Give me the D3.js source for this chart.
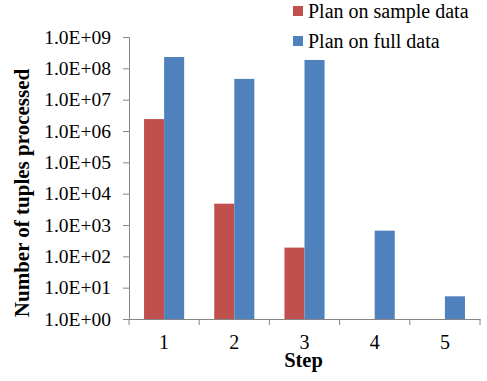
<!DOCTYPE html>
<html>
<head>
<meta charset="utf-8">
<script src="https://cdn.jsdelivr.net/npm/d3@7"></script>
<style>
  body { margin: 0; background: #fff; }
  svg text { font-family: "Liberation Serif", "Times New Roman", serif; }
</style>
</head>
<body>
<div id="chart"></div>
<script>
// chart data
const steps = ["1", "2", "3", "4", "5"];
const sampleData = [2.4e6, 4.8e3, 190, null, null];
const fullData = [2.3e8, 4.6e7, 1.85e8, 660, 5.3];
const seriesNames = ["Plan on sample data", "Plan on full data"];
const seriesColors = ["#C0504D", "#4F81BD"];
const yTicks = [1e0, 1e1, 1e2, 1e3, 1e4, 1e5, 1e6, 1e7, 1e8, 1e9];

const width = 487, height = 381;
const margin = { top: 37, right: 7, bottom: 62, left: 129 };

const svg = d3.select("#chart")
    .append("svg")
    .attr("width", width)
    .attr("height", height);

const g = svg.append("g")
    .attr("transform", `translate(${margin.left},${margin.top})`);

const innerW = width - margin.left - margin.right;
const innerH = height - margin.top - margin.bottom;

const x = d3.scaleBand()
    .domain(steps)
    .range([0, innerW]);

// gap width 150% like excel
const barW = x.bandwidth() / 3.5;

const y = d3.scaleLog()
    .domain([1, 1e9])
    .range([innerH, 0]);

const fmt = v => {
    const e = Math.round(Math.log10(v));
    return "1.0E+" + (e < 10 ? "0" + e : e);
};

// y axis
const yAxis = g.append("g")
    .call(d3.axisLeft(y).tickValues(yTicks).tickFormat(fmt).tickSize(6).tickPadding(12));
yAxis.select(".domain").attr("stroke", "#868686");
yAxis.selectAll(".tick line").attr("stroke", "#868686");
yAxis.selectAll(".tick text")
    .style("font-family", "Liberation Serif, serif")
    .style("font-size", "19.5px")
    .attr("fill", "#000");

// bars
const series = [sampleData, fullData];
series.forEach((vals, s) => {
    g.selectAll(".bar" + s)
        .data(steps.map((d, i) => ({ step: d, value: vals[i] })).filter(d => d.value))
        .enter()
        .append("rect")
        .attr("x", d => x(d.step) + x.bandwidth() / 2 - barW + s * barW)
        .attr("y", d => y(d.value))
        .attr("width", barW)
        .attr("height", d => innerH - y(d.value))
        .attr("fill", seriesColors[s]);
});

// x axis
const xAxis = g.append("g")
    .attr("transform", `translate(0,${innerH})`)
    .call(d3.axisBottom(x).tickSize(0).tickPadding(16));
xAxis.select(".domain").attr("stroke", "#868686");
xAxis.selectAll(".tick text")
    .style("font-family", "Liberation Serif, serif")
    .style("font-size", "20px")
    .attr("fill", "#000");

// category separators
g.selectAll(".sep")
    .data(steps.concat(["end"]))
    .enter()
    .append("line")
    .attr("x1", (d, i) => i * x.step())
    .attr("x2", (d, i) => i * x.step())
    .attr("y1", innerH)
    .attr("y2", innerH + 6)
    .attr("stroke", "#868686");

// axis titles
svg.append("text")
    .attr("x", 303.5)
    .attr("y", 367)
    .attr("text-anchor", "middle")
    .style("font-size", "20.5px")
    .style("font-weight", "bold")
    .text("Step");

svg.append("text")
    .attr("transform", "translate(29,193) rotate(-90)")
    .attr("text-anchor", "middle")
    .style("font-size", "21px")
    .style("font-weight", "bold")
    .text("Number of tuples processed");

// legend
const legend = svg.append("g").attr("transform", "translate(293,6)");
seriesNames.forEach((name, i) => {
    legend.append("rect")
        .attr("x", 0)
        .attr("y", i * 30)
        .attr("width", 10)
        .attr("height", 10)
        .attr("fill", seriesColors[i]);
    legend.append("text")
        .attr("x", 15)
        .attr("y", i * 30 + 12)
        .style("font-size", "20px")
        .text(name);
});
</script>
</body>
</html>
